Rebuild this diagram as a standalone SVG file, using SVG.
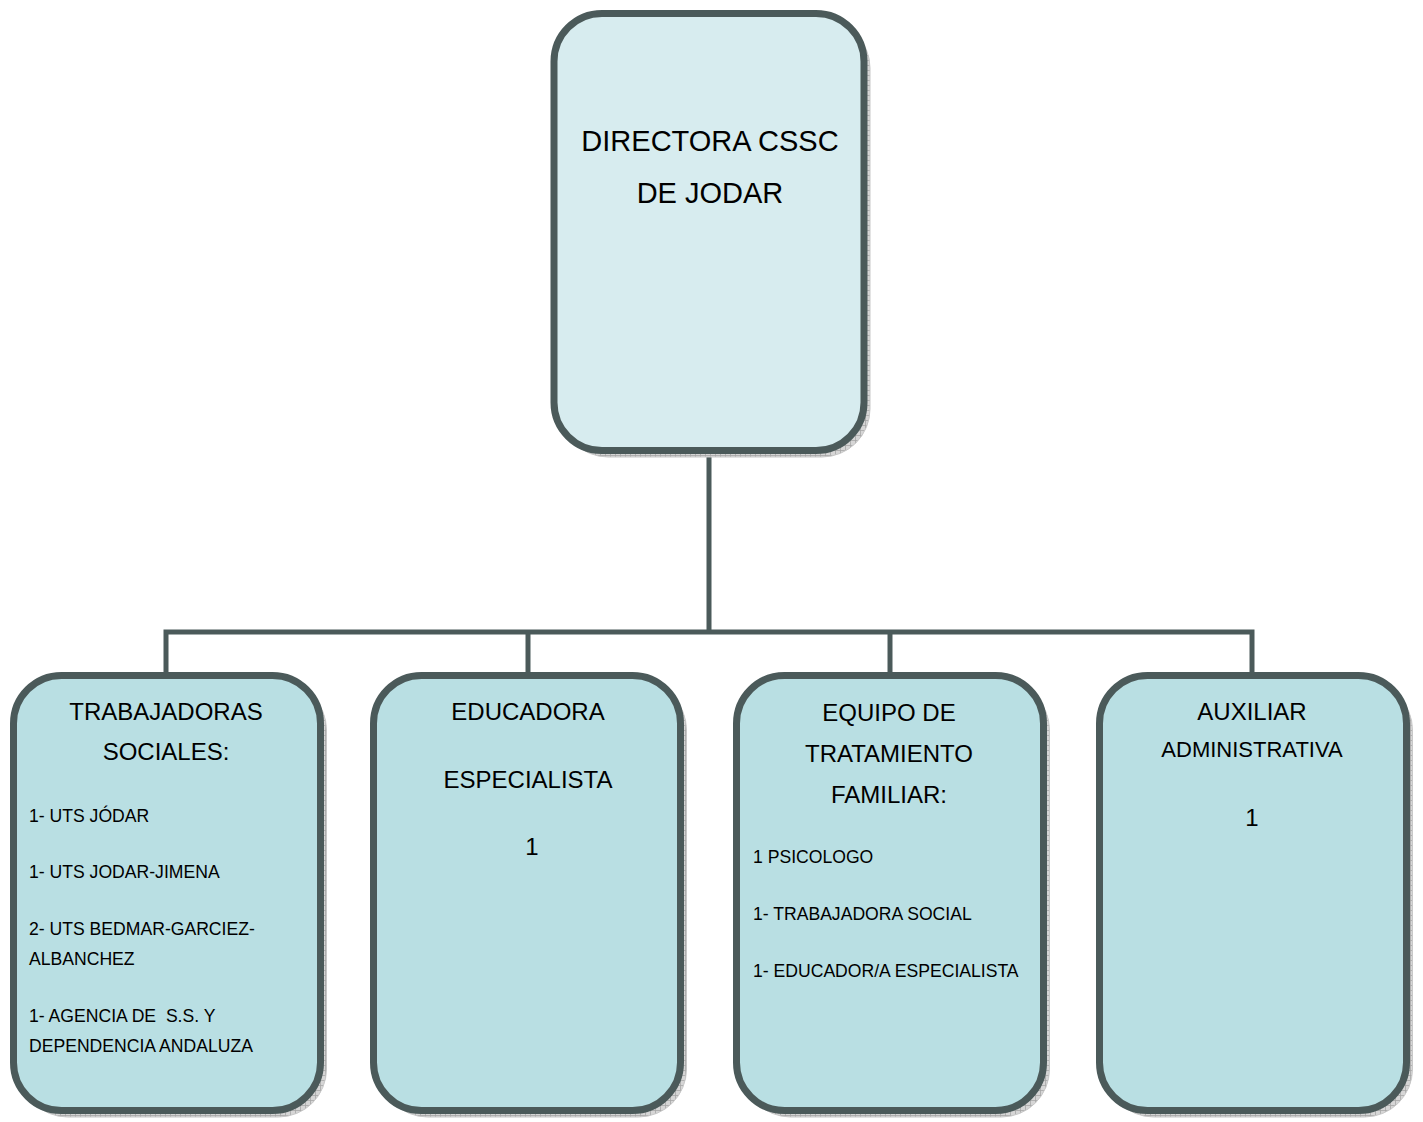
<svg xmlns="http://www.w3.org/2000/svg" width="1423" height="1122" viewBox="0 0 1423 1122">
<defs>
<pattern id="hatch" width="5" height="5" patternUnits="userSpaceOnUse">
<rect width="5" height="5" fill="#d6d6d6"/>
<path d="M0 0.5H5M0.5 0V5" stroke="#a6a6a6" stroke-width="0.8"/>
</pattern>
<style>
.sh{fill:url(#hatch);stroke:#c8c8c8;stroke-width:1}
.box{stroke:#4b5a5a;stroke-width:7}
.top{fill:#d7ecef}
.bot{fill:#b9dfe3}
.conn{fill:none;stroke:#4b5a5a;stroke-width:5}
text{font-family:"Liberation Sans",Arial,sans-serif;fill:#000}
.big{font-size:29px;text-anchor:middle}
.h{font-size:24px;text-anchor:middle}
.s{font-size:17.6px}
</style>
</defs>
<rect width="1423" height="1122" fill="#ffffff"/>
<g id="connectors">
<path class="conn" d="M709 456V632"/>
<path class="conn" d="M166 672V632H1252V672"/>
<path class="conn" d="M528 632V672"/>
<path class="conn" d="M890 632V672"/>
</g>
<g id="directora">
<rect class="sh" x="560" y="20" width="310" height="437" rx="48"/>
<rect class="box top" x="554" y="13.5" width="310" height="437" rx="48"/>
<text class="big" x="710" y="151">DIRECTORA CSSC</text>
<text class="big" x="710" y="203">DE JODAR</text>
</g>
<g id="trabajadoras">
<rect class="sh" x="19.5" y="682" width="307" height="435" rx="48"/>
<rect class="box bot" x="13.5" y="675.5" width="307" height="435" rx="48"/>
<text class="h" x="166" y="720">TRABAJADORAS</text>
<text class="h" x="166" y="760">SOCIALES:</text>
<text class="s" x="29" y="822">1- UTS JÓDAR</text>
<text class="s" x="29" y="878">1- UTS JODAR-JIMENA</text>
<text class="s" x="29" y="935">2- UTS BEDMAR-GARCIEZ-</text>
<text class="s" x="29" y="965">ALBANCHEZ</text>
<text class="s" x="29" y="1022" xml:space="preserve">1- AGENCIA DE  S.S. Y</text>
<text class="s" x="29" y="1052">DEPENDENCIA ANDALUZA</text>
</g>
<g id="educadora">
<rect class="sh" x="379.5" y="682" width="307" height="435" rx="48"/>
<rect class="box bot" x="373.5" y="675.5" width="307" height="435" rx="48"/>
<text class="h" x="528" y="720">EDUCADORA</text>
<text class="h" x="528" y="788">ESPECIALISTA</text>
<text class="h" x="532" y="855">1</text>
</g>
<g id="equipo">
<rect class="sh" x="742.5" y="682" width="307" height="435" rx="48"/>
<rect class="box bot" x="736.5" y="675.5" width="307" height="435" rx="48"/>
<text class="h" x="889" y="721">EQUIPO DE</text>
<text class="h" x="889" y="762">TRATAMIENTO</text>
<text class="h" x="889" y="803">FAMILIAR:</text>
<text class="s" x="753" y="863">1 PSICOLOGO</text>
<text class="s" x="753" y="920">1- TRABAJADORA SOCIAL</text>
<text class="s" x="753" y="977">1- EDUCADOR/A ESPECIALISTA</text>
</g>
<g id="auxiliar">
<rect class="sh" x="1105.5" y="682" width="307" height="435" rx="48"/>
<rect class="box bot" x="1099.5" y="675.5" width="307" height="435" rx="48"/>
<text class="h" x="1252" y="720">AUXILIAR</text>
<text x="1252" y="757" style="font-size:22px;text-anchor:middle">ADMINISTRATIVA</text>
<text class="h" x="1252" y="826">1</text>
</g>
</svg>
